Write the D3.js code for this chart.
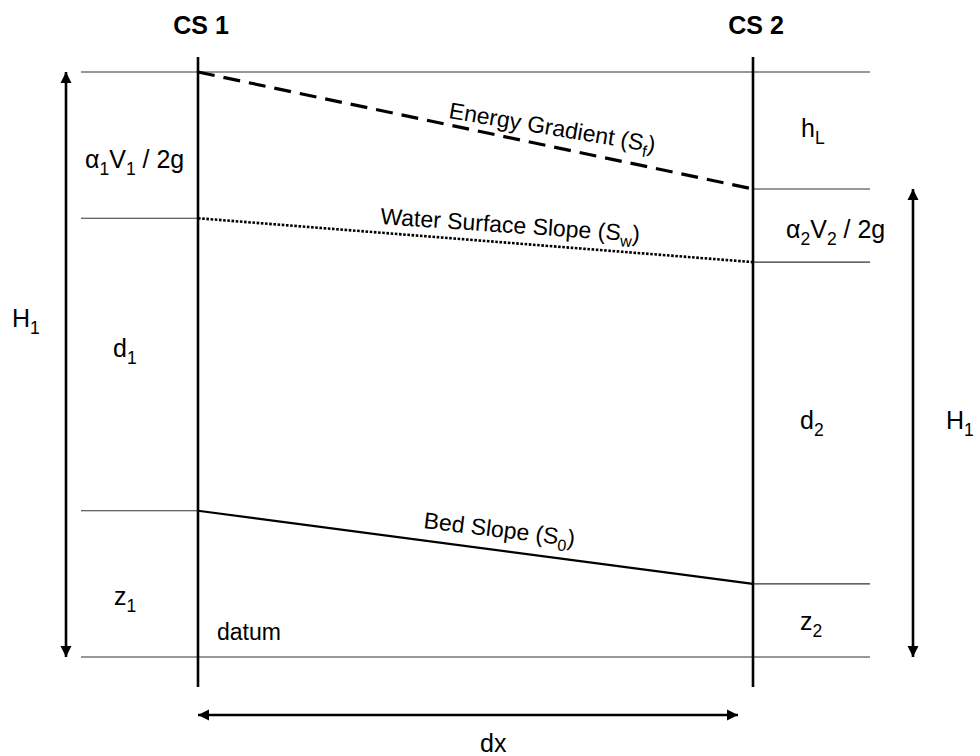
<!DOCTYPE html>
<html>
<head>
<meta charset="utf-8">
<script src="https://cdn.jsdelivr.net/npm/d3@7"></script>
<style>
  html, body { margin: 0; padding: 0; background: #fff; }
  svg { display: block; font-family: Arial, "Liberation Sans", sans-serif; }
</style>
</head>
<body>
<svg id="chart" width="980" height="756"></svg>
<script>
// ---- data (elevations in arbitrary units above datum, stations as fraction of dx) ----
const sections = ["CS 1", "CS 2"];
const stations = [0, 1];
const energyGrade = [10, 8];
const waterSurface = [7.5, 6.75];
const bedElevation = [2.5, 1.25];
const datumElevation = 0;

const svg = d3.select("#chart");
const x = d3.scaleLinear().domain([0, 1]).range([198, 753]);
const y = d3.scaleLinear().domain([0, 10]).range([657, 72]);

const leftEdge = 81, rightEdge = 870;

// arrow markers
const defs = svg.append("defs");
defs.append("marker")
  .attr("id", "arr").attr("viewBox", "0 0 10 10")
  .attr("refX", 10).attr("refY", 5)
  .attr("markerWidth", 4.4).attr("markerHeight", 4.4)
  .attr("markerUnits", "strokeWidth")
  .attr("orient", "auto-start-reverse")
  .append("path").attr("d", "M0,0 L10,5 L0,10 Z").attr("fill", "#000");

// thin reference lines
const thin = svg.append("g").attr("stroke", "#333").attr("stroke-width", 1.2);
function hline(x1, x2, yy) {
  thin.append("line").attr("x1", x1).attr("x2", x2).attr("y1", yy).attr("y2", yy);
}
hline(leftEdge, rightEdge, y(energyGrade[0]));
hline(leftEdge, x(0), y(waterSurface[0]));
hline(leftEdge, x(0), y(bedElevation[0]));
hline(leftEdge, rightEdge, y(datumElevation));
hline(x(1), rightEdge, y(energyGrade[1]));
hline(x(1), rightEdge, y(waterSurface[1]));
hline(x(1), rightEdge, y(bedElevation[1]));

// slope lines
const line = d3.line().x(d => x(d[0])).y(d => y(d[1]));
svg.append("path").datum(d3.zip(stations, energyGrade)).attr("d", line)
  .attr("fill", "none").attr("stroke", "#000").attr("stroke-width", 3.2)
  .attr("stroke-dasharray", "17,9");
svg.append("path").datum(d3.zip(stations, waterSurface)).attr("d", line)
  .attr("fill", "none").attr("stroke", "#000").attr("stroke-width", 2.6)
  .attr("stroke-dasharray", "2.6,1.6");
svg.append("path").datum(d3.zip(stations, bedElevation)).attr("d", line)
  .attr("fill", "none").attr("stroke", "#000").attr("stroke-width", 2.2);

// cross-section verticals
svg.append("g").selectAll("line").data(stations).join("line")
  .attr("x1", d => x(d)).attr("x2", d => x(d))
  .attr("y1", 57).attr("y2", 687)
  .attr("stroke", "#000").attr("stroke-width", 2.6);

// section titles
svg.append("g").selectAll("text").data(sections).join("text")
  .attr("x", (d, i) => x(stations[i]) + 3).attr("y", 34)
  .attr("text-anchor", "middle").attr("font-weight", "bold")
  .attr("font-size", 25).text(d => d);

// arrows
const arrows = svg.append("g").attr("stroke", "#000").attr("stroke-width", 2.6);
arrows.append("line").attr("x1", 66).attr("x2", 66)
  .attr("y1", y(energyGrade[0])).attr("y2", y(datumElevation))
  .attr("marker-start", "url(#arr)").attr("marker-end", "url(#arr)");
arrows.append("line").attr("x1", 913).attr("x2", 913)
  .attr("y1", y(energyGrade[1])).attr("y2", y(datumElevation))
  .attr("marker-start", "url(#arr)").attr("marker-end", "url(#arr)");
arrows.append("line").attr("x1", x(0)).attr("x2", 738)
  .attr("y1", 715).attr("y2", 715)
  .attr("marker-start", "url(#arr)").attr("marker-end", "url(#arr)");

// labels with subscripts
function label(parts, px, py, fs, angle) {
  const t = svg.append("text")
    .attr("transform", `translate(${px},${py}) rotate(${angle || 0})`)
    .attr("font-size", fs).attr("fill", "#000");
  const sh = Math.round(fs * 0.28);
  let shifted = false;
  parts.forEach(p => {
    const sp = t.append("tspan").text(p.t);
    if (p.sub) sp.attr("font-size", fs * 0.7);
    if (p.sub && !shifted) { sp.attr("dy", sh); shifted = true; }
    else if (!p.sub && shifted) { sp.attr("dy", -sh); shifted = false; }
  });
  return t;
}
const LF = 25;
label([{t:"α"},{t:"1",sub:true},{t:"V"},{t:"1",sub:true},{t:" / 2g"}], 85, 168, LF);
label([{t:"H"},{t:"1",sub:true}], 12, 327, LF);
label([{t:"d"},{t:"1",sub:true}], 113, 357, LF);
label([{t:"z"},{t:"1",sub:true}], 114, 605, LF);
label([{t:"datum"}], 217, 640, 23);
label([{t:"h"},{t:"L",sub:true}], 801, 137, LF);
label([{t:"α"},{t:"2",sub:true},{t:"V"},{t:"2",sub:true},{t:" / 2g"}], 786, 238, LF);
label([{t:"d"},{t:"2",sub:true}], 800, 429, LF);
label([{t:"H"},{t:"1",sub:true}], 946, 429, LF);
label([{t:"z"},{t:"2",sub:true}], 800, 630, LF);
label([{t:"dx"}], 480, 752, LF);

label([{t:"Energy Gradient (S"},{t:"f",sub:true},{t:")"}], 448, 118, 23, 9.5);
label([{t:"Water Surface Slope (S"},{t:"w",sub:true},{t:")"}], 380, 224, 23, 3.9);
label([{t:"Bed Slope (S"},{t:"0",sub:true},{t:")"}], 423, 528, 23, 6.9);
</script>
</body>
</html>
